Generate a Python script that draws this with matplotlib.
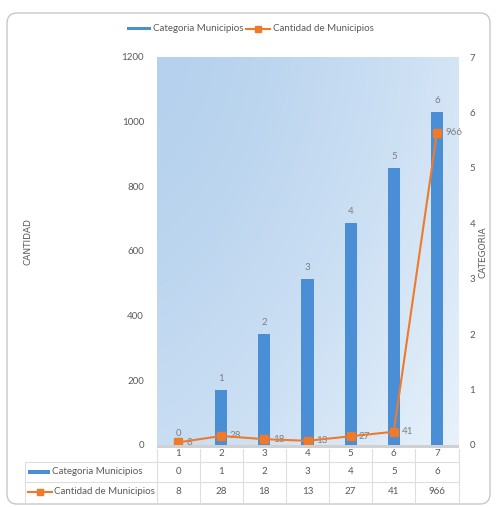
import matplotlib
matplotlib.use("Agg")
import matplotlib.pyplot as plt
import numpy as np
from matplotlib.patches import FancyBboxPatch, Rectangle
from matplotlib.lines import Line2D

categories = ["1", "2", "3", "4", "5", "6", "7"]
categoria_municipios = [0, 1, 2, 3, 4, 5, 6]
cantidad_municipios = [8, 28, 18, 13, 27, 41, 966]
left_ticks = [0, 200, 400, 600, 800, 1000, 1200]
right_ticks = [0, 1, 2, 3, 4, 5, 6, 7]
series_names = ["Categoria Municipios", "Cantidad de Municipios"]

plt.rcParams['font.family'] = ['Lato', 'DejaVu Sans']
W, H = 498, 507
fig = plt.figure(figsize=(W / 100, H / 100), dpi=100)
fig.patch.set_facecolor('white')

def fx(px):
    return px / W

def fy(py):
    return 1 - py / H

GRAY = '#595959'
BLUE = '#4a8fd6'
ORANGE = '#ee7a2a'

# outer border
border = FancyBboxPatch((fx(7), fy(504)), fx(490) - fx(7), fy(13) - fy(504),
                        boxstyle="round,pad=0,rounding_size=0.02",
                        transform=fig.transFigure, fill=False,
                        edgecolor='#c8c8c8', linewidth=1.0)
fig.patches.append(border)

L, R, T, B = 156.5, 458.5, 57, 445
ax = fig.add_axes([fx(L), fy(B), fx(R) - fx(L), fy(T) - fy(B)])
ax2 = ax.twinx()

# gradient background
ny, nx = 100, 200
xx, yy = np.meshgrid(np.linspace(0, 1, nx), np.linspace(0, 1, ny))
t = np.clip(0.55 * xx ** 1.4 + 0.35 * yy ** 1.5, 0, 1)
c0 = np.array([0.71, 0.82, 0.93])
c1 = np.array([0.93, 0.96, 0.99])
img = c0[None, None, :] * (1 - t[..., None]) + c1[None, None, :] * t[..., None]
ax.imshow(img, extent=[0, 1, 0, 1], transform=ax.transAxes, aspect='auto',
          zorder=0, origin='upper')

x = np.arange(len(categories))
# bars on ax (0-7, right ticks)
ax.bar(x, categoria_municipios, width=0.28, color=BLUE, zorder=2)
for xi, v in zip(x, categoria_municipios):
    ax.annotate(str(v), (xi, v), xytext=(0, 5), textcoords='offset points',
                ha='center', va='bottom', fontsize=7, color='#7f7f7f', zorder=3)
ax.set_xlim(-0.5, len(categories) - 0.5)
ax.set_ylim(0, 7)
ax.set_yticks(right_ticks)
ax.yaxis.tick_right()
ax.yaxis.set_label_position('right')
ax.set_xticks(x)
ax.set_xticklabels(categories)
ax.tick_params(axis='both', length=0, labelsize=7, colors=GRAY)
ax.tick_params(axis='y', pad=8)
ax.tick_params(axis='x', pad=3)

# line on ax2 (0-1200, left ticks)
ax2.plot(x, cantidad_municipios, color=ORANGE, lw=1.5, marker='s', ms=6,
         zorder=4)
for xi, v in zip(x, cantidad_municipios):
    ax2.annotate(str(v), (xi, v), xytext=(6, 0), textcoords='offset points',
                 ha='left', va='center', fontsize=7, color='#7f7f7f')
ax2.set_ylim(0, 1200)
ax2.set_yticks(left_ticks)
ax2.yaxis.tick_left()
ax2.tick_params(axis='y', length=0, labelsize=7, colors=GRAY, pad=9)

for a in (ax, ax2):
    for s in a.spines.values():
        s.set_visible(False)

# floor shadow
fig.add_artist(Rectangle((fx(L), fy(447.5)), fx(R) - fx(L), fy(445) - fy(447.5),
                         transform=fig.transFigure, color='#d0d0d0', lw=0, zorder=1))

# axis titles
fig.text(fx(28), fy(242), 'CANTIDAD', rotation=90, ha='center', va='center',
         fontsize=6.5, color=GRAY, family=['DejaVu Sans'])
fig.text(fx(483), fy(252), 'CATEGORIA', rotation=90, ha='center', va='center',
         fontsize=6.5, color=GRAY, family=['DejaVu Sans'])

# top legend
lx = 127
fig.add_artist(Rectangle((fx(lx), fy(30)), fx(24), fy(27) - fy(30),
                         transform=fig.transFigure, color=BLUE, lw=0))
fig.text(fx(lx + 26), fy(28.5), series_names[0], ha='left', va='center',
         fontsize=7, color=GRAY)
ox = 246
fig.add_artist(Line2D([fx(ox), fx(ox + 24)], [fy(28.5), fy(28.5)],
                      transform=fig.transFigure, color=ORANGE, lw=1.5))
fig.add_artist(Line2D([fx(ox + 12)], [fy(28.5)], transform=fig.transFigure,
                      color=ORANGE, marker='s', ms=5, lw=0))
fig.text(fx(ox + 27), fy(28.5), series_names[1], ha='left', va='center',
         fontsize=7, color=GRAY)

# data table
col_px = [L + (i + 0.5) * (R - L) / len(categories) for i in range(len(categories))]
row_y = [472, 492]
line_color = '#dedede'
for yline in [462, 482]:
    fig.add_artist(Line2D([fx(25), fx(R)], [fy(yline), fy(yline)],
                          transform=fig.transFigure, color=line_color, lw=0.8))
for i in range(len(categories) + 1):
    xl = L + i * (R - L) / len(categories)
    fig.add_artist(Line2D([fx(xl), fx(xl)], [fy(449), fy(502)],
                          transform=fig.transFigure, color=line_color, lw=0.8))
fig.add_artist(Line2D([fx(25), fx(25)], [fy(462), fy(502)],
                      transform=fig.transFigure, color=line_color, lw=0.8))

fig.add_artist(Rectangle((fx(28), fy(474)), fx(22), fy(470) - fy(474),
                         transform=fig.transFigure, color=BLUE, lw=0))
fig.text(fx(52), fy(row_y[0]), series_names[0], ha='left', va='center',
         fontsize=7, color=GRAY)
fig.add_artist(Line2D([fx(28), fx(52)], [fy(row_y[1]), fy(row_y[1])],
                      transform=fig.transFigure, color=ORANGE, lw=1.5))
fig.add_artist(Line2D([fx(40)], [fy(row_y[1])], transform=fig.transFigure,
                      color=ORANGE, marker='s', ms=5, lw=0))
fig.text(fx(54), fy(row_y[1]), series_names[1], ha='left', va='center',
         fontsize=7, color=GRAY)
for cx, a, b in zip(col_px, categoria_municipios, cantidad_municipios):
    fig.text(fx(cx), fy(row_y[0]), str(a), ha='center', va='center',
             fontsize=7, color=GRAY)
    fig.text(fx(cx), fy(row_y[1]), str(b), ha='center', va='center',
             fontsize=7, color=GRAY)

fig.savefig('out.png', dpi=100)
